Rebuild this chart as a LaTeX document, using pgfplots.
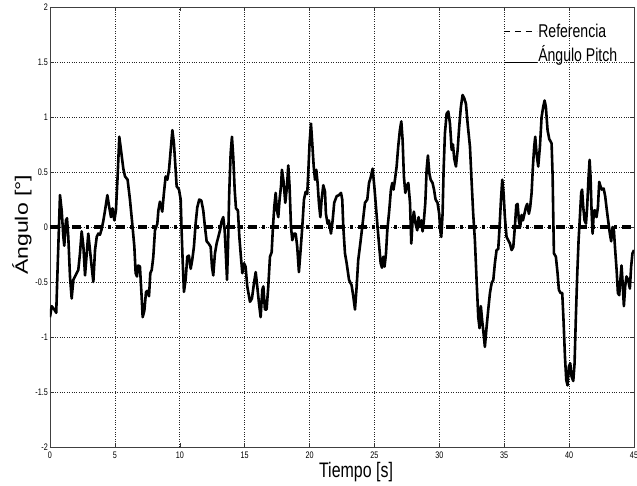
\documentclass[border=0pt]{standalone}
\usepackage{fontspec}
\setmainfont{Liberation Sans}
\newfontfamily\narrow[FakeStretch=0.76]{Liberation Sans}
\newfontfamily\ylabfont[FakeStretch=1.28]{Liberation Sans}
\usepackage{pgfplots}
\pgfplotsset{compat=1.18}

% Pitch angle response of the platform
\pgfplotstableread{
t v
0.00 -0.82
0.13 -0.72
0.33 -0.75
0.48 -0.78
0.59 -0.36
0.77 0.29
0.90 0.15
1.03 -0.09
1.10 -0.17
1.23 0.06
1.31 0.08
1.41 -0.09
1.54 -0.45
1.67 -0.65
1.80 -0.48
1.93 -0.45
2.05 -0.42
2.18 -0.39
2.31 -0.24
2.44 -0.04
2.57 -0.17
2.70 -0.44
2.83 -0.24
2.95 -0.06
3.08 -0.21
3.21 -0.36
3.34 -0.50
3.47 -0.21
3.60 -0.09
3.72 -0.06
3.85 -0.07
3.98 -0.02
4.10 0.05
4.24 0.15
4.42 0.29
4.55 0.19
4.70 0.09
4.82 0.17
4.96 0.06
5.08 0.15
5.21 0.46
5.34 0.82
5.47 0.70
5.65 0.53
5.78 0.46
5.98 0.43
6.16 0.25
6.34 0.03
6.50 -0.18
6.60 -0.42
6.70 -0.45
6.80 -0.35
6.93 -0.36
7.06 -0.63
7.14 -0.82
7.27 -0.76
7.40 -0.59
7.52 -0.58
7.63 -0.63
7.73 -0.42
7.84 -0.39
7.96 -0.27
8.09 -0.03
8.27 0.03
8.35 0.15
8.47 0.23
8.65 0.14
8.78 0.31
8.91 0.46
9.04 0.43
9.17 0.52
9.30 0.70
9.43 0.88
9.55 0.76
9.68 0.52
9.76 0.37
9.94 0.34
10.07 0.25
10.14 -0.03
10.22 -0.30
10.32 -0.59
10.45 -0.48
10.58 -0.27
10.70 -0.26
10.84 -0.38
10.96 -0.30
11.09 -0.18
11.22 0.03
11.35 0.18
11.50 0.25
11.66 0.24
11.81 0.15
11.94 0.00
12.07 -0.13
12.22 -0.15
12.38 -0.18
12.48 -0.36
12.58 -0.44
12.71 -0.24
12.84 -0.15
12.97 -0.09
13.10 -0.03
13.22 0.05
13.35 0.09
13.46 -0.03
13.56 -0.27
13.64 -0.48
13.71 -0.21
13.81 0.31
13.92 0.67
14.02 0.82
14.12 0.64
14.23 0.34
14.33 0.17
14.48 0.15
14.59 -0.09
14.71 -0.27
14.82 -0.42
14.95 -0.33
15.07 -0.36
15.20 -0.54
15.41 -0.68
15.56 -0.65
15.72 -0.51
15.85 -0.41
15.97 -0.54
16.10 -0.69
16.23 -0.82
16.36 -0.57
16.44 -0.54
16.56 -0.75
16.69 -0.75
16.82 -0.54
16.95 -0.27
17.08 -0.23
17.18 0.00
17.28 0.18
17.39 0.31
17.49 0.15
17.59 0.09
17.69 0.25
17.80 0.37
17.87 0.52
18.00 0.41
18.13 0.22
18.26 0.37
18.36 0.56
18.46 0.37
18.57 0.00
18.67 -0.12
18.80 -0.06
18.93 -0.06
19.05 -0.18
19.18 -0.41
19.31 -0.21
19.44 0.00
19.57 0.25
19.70 0.32
19.82 0.30
19.90 0.49
20.00 0.76
20.11 0.94
20.21 0.76
20.32 0.55
20.42 0.43
20.52 0.52
20.62 0.40
20.72 0.22
20.83 0.09
20.93 0.25
21.06 0.38
21.19 0.32
21.26 0.12
21.39 0.03
21.49 0.06
21.65 -0.06
21.78 0.06
21.90 0.22
22.09 0.28
22.27 0.29
22.42 0.31
22.52 0.25
22.60 0.00
22.73 -0.24
22.86 -0.33
23.04 -0.48
23.24 -0.53
23.37 -0.63
23.50 -0.75
23.63 -0.54
23.75 -0.30
23.91 -0.15
24.06 0.00
24.27 0.22
24.45 0.25
24.58 0.40
24.71 0.45
24.86 0.53
24.99 0.37
25.12 0.18
25.24 0.00
25.37 -0.18
25.48 -0.33
25.58 -0.37
25.68 -0.27
25.78 -0.36
25.89 -0.24
25.99 -0.03
26.14 0.15
26.27 0.34
26.37 0.40
26.47 0.34
26.58 0.43
26.71 0.55
26.83 0.73
26.96 0.88
27.07 0.96
27.17 0.79
27.27 0.46
27.38 0.31
27.48 0.37
27.61 0.40
27.74 0.22
27.84 -0.15
27.94 0.06
28.04 0.14
28.17 0.03
28.30 -0.03
28.40 0.09
28.50 0.00
28.61 0.06
28.71 -0.04
28.81 0.06
28.92 0.22
29.02 0.52
29.12 0.65
29.23 0.49
29.33 0.43
29.48 0.40
29.59 0.34
29.71 0.25
29.86 0.22
29.99 0.12
30.07 -0.03
30.15 -0.09
30.25 0.12
30.33 0.52
30.43 0.85
30.56 1.03
30.69 1.05
30.82 0.94
30.95 0.70
31.05 0.75
31.15 0.62
31.28 0.55
31.41 0.70
31.53 0.91
31.66 1.09
31.79 1.20
31.92 1.17
32.05 1.12
32.18 0.94
32.36 0.73
32.48 0.43
32.61 0.12
32.74 -0.12
32.87 -0.48
33.00 -0.82
33.10 -0.92
33.20 -0.72
33.30 -0.85
33.41 -0.97
33.51 -1.09
33.64 -0.91
33.77 -0.75
33.90 -0.60
34.03 -0.51
34.16 -0.48
34.28 -0.33
34.41 -0.21
34.54 -0.20
34.64 0.00
34.75 0.25
34.85 0.43
34.95 0.31
35.05 0.09
35.18 -0.09
35.31 -0.12
35.44 -0.15
35.57 -0.21
35.70 -0.18
35.82 0.00
35.93 0.20
36.03 0.21
36.13 0.06
36.23 0.00
36.34 0.11
36.44 0.06
36.54 0.11
36.67 0.18
36.77 0.21
36.90 0.12
37.00 0.18
37.11 0.31
37.21 0.55
37.31 0.73
37.39 0.82
37.49 0.67
37.62 0.55
37.75 0.73
37.88 1.00
38.00 1.09
38.11 1.15
38.21 1.09
38.34 0.88
38.47 0.80
38.65 0.76
38.73 0.46
38.78 0.09
38.83 -0.24
38.98 -0.27
39.11 -0.42
39.21 -0.57
39.34 -0.60
39.47 -0.60
39.57 -0.85
39.68 -1.18
39.78 -1.39
39.88 -1.44
39.98 -1.27
40.09 -1.24
40.19 -1.36
40.32 -1.40
40.42 -1.24
40.52 -0.82
40.62 -0.45
40.73 -0.12
40.83 0.09
40.93 0.31
41.00 0.34
41.09 0.18
41.19 0.06
41.30 0.03
41.39 0.18
41.50 0.46
41.58 0.61
41.65 0.46
41.73 0.15
41.81 -0.06
41.91 0.15
42.01 0.15
42.11 0.09
42.22 0.18
42.32 0.41
42.42 0.37
42.53 0.34
42.66 0.35
42.78 0.28
42.91 0.15
43.04 0.03
43.14 -0.06
43.24 -0.13
43.35 0.00
43.45 -0.03
43.55 -0.21
43.66 -0.39
43.76 -0.60
43.86 -0.62
43.97 -0.45
44.04 -0.35
44.12 -0.50
44.22 -0.72
44.32 -0.54
44.42 -0.45
44.55 -0.48
44.68 -0.56
44.78 -0.36
44.88 -0.24
45.00 -0.21
}\pitchdata

% Set-point (zero reference)
\pgfplotstableread{
t v
0 0
45 0
}\refdata

\begin{document}
\begin{tikzpicture}
\begin{axis}[
  scale only axis,
  width=584pt, height=440pt,
  xmin=0, xmax=45, ymin=-2, ymax=2,
  xtick={0,5,...,45},
  xticklabels={0,5,10,15,20,25,30,35,40,45},
  ytick={-2,-1.5,-1,-0.5,0,0.5,1,1.5,2},
  yticklabels={-2,-1.5,-1,-0.5,0,0.5,1,1.5,2},
  tick align=inside,
  major tick length=4pt,
  tick style={black!80, line width=0.5pt},
  xticklabel style={font=\narrow\fontsize{9.5}{10}\selectfont, inner sep=0pt, yshift=-5pt},
  yticklabel style={font=\narrow\fontsize{9.5}{10}\selectfont, inner sep=0pt, xshift=-2pt},
  grid=major,
  major grid style={black!85, line width=0.6pt, dash pattern=on 1pt off 1.4pt},
  axis line style={black!75, line width=0.8pt},
  xlabel={Tiempo [s]},
  ylabel={Ángulo [°]},
  xlabel style={font=\narrow\fontsize{21}{23}\selectfont, at={(axis description cs:0.524,-0.058)}, anchor=center, inner sep=0pt},
  ylabel style={font=\ylabfont\fontsize{18}{20}\selectfont, at={(axis description cs:-0.048,0.505)}, anchor=center, inner sep=0pt},
  legend style={draw=none, fill=none, at={(axis description cs:0.776,0.963)}, anchor=north west,
    inner sep=0pt, font=\narrow\fontsize{18.5}{20}\selectfont,
    nodes={inner sep=1pt}, row sep=4pt,
    /tikz/every even column/.append style={column sep=0pt}},
  legend cell align=left,
  legend image code/.code={\draw[#1] (0pt,0pt) -- (33pt,0pt);},
]
\addlegendimage{black, line width=0.9pt, dash pattern=on 6pt off 5pt}
\addlegendentry{Referencia}
\addlegendimage{legend image code/.code={\draw[black, line width=0.9pt] (0pt,-8pt) -- (33pt,-8pt);}}
\addlegendentry{Ángulo Pitch}

\addplot[forget plot, black, line width=4pt, dash pattern=on 9pt off 5pt on 3pt off 5pt] table[x=t, y=v] {\refdata};
\addplot[forget plot, black, line width=2.6pt, line join=round] table[x=t, y=v] {\pitchdata};

\coordinate (sw) at (rel axis cs:0,0);
\coordinate (ne) at (rel axis cs:1,1);
\end{axis}
\pgfresetboundingbox
\path ([shift={(-50pt,-39pt)}]sw) rectangle ([shift={(3pt,7pt)}]ne);
\end{tikzpicture}
\end{document}
